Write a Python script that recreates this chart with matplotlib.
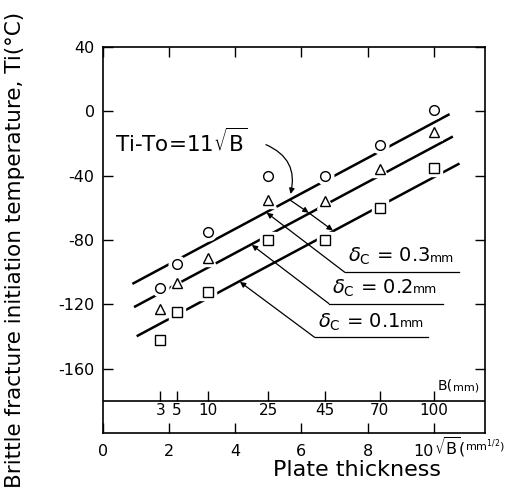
import numpy as np
import matplotlib.pyplot as plt

# plate thickness B (mm) at which each specimen was tested
B = np.array([3, 5, 10, 25, 45, 70, 100])
# brittle fracture initiation temperature Ti (C) for each critical COD
Ti_03 = [-110, -95, -75, -40, -40, -21, 1]
Ti_02 = [-123, -107, -91, -55, -56, -36, -13]
Ti_01 = [-142, -125, -112, -80, -80, -60, -35]

# fitted lines Ti = To + 11*sqrt(B)
To = {"0.3": -117, "0.2": -132, "0.1": -151}
slope = 11
line_span = {"0.3": (0.92, 10.45), "0.2": (0.97, 10.55), "0.1": (1.05, 10.75)}

B_ticks = [3, 5, 10, 25, 45, 70, 100]
B_labels = ["3", "5", "10", "25", "45", "70", "100"]

plt.rcParams['font.family'] = ['DejaVu Sans']

fig = plt.figure(figsize=(5.18, 4.96), dpi=100)
ax = fig.add_axes([0.199, 0.127, 0.737, 0.778])
ax.set_xlim(0, 11.55)
ax.set_ylim(-200, 40)

for k in ["0.3", "0.2", "0.1"]:
    x0, x1 = line_span[k]
    xs = np.array([x0, x1])
    ax.plot(xs, To[k] + slope * xs, color='black', lw=1.8, zorder=2)

# white backing under each symbol so the fitted lines break around it
sq = np.sqrt(B)
for ys, m, ms in [(Ti_03, 'o', 7), (Ti_02, '^', 7), (Ti_01, 's', 6.5)]:
    ax.plot(sq, ys, m, ms=ms + 5, mfc='white', mec='white', zorder=3)
    ax.plot(sq, ys, m, ms=ms, mfc='white', mec='black', mew=1.0, zorder=4)

# separate strip with the B (mm) scale
ax.axhline(-180, color='black', lw=1.2)
ax.vlines(np.sqrt(B_ticks), -180, -174, color='black', lw=1.0)
for b, lab in zip(B_ticks, B_labels):
    ax.text(np.sqrt(b), -186, lab, ha='center', va='center', fontsize=11)
t = ax.text(10.12, -174.5, "B(", ha='left', va='bottom', fontsize=10)
ax.annotate("mm)", xy=(1, 0), xycoords=t, ha='left', va='bottom', fontsize=8)

# main axis ticks
ax.set_yticks([40, 0, -40, -80, -120, -160])
ax.set_yticklabels(["40", "0", "-40", "-80", "-120", "-160"], fontsize=11.5)
ax.set_xticks([0, 2, 4, 6, 8, 10])
ax.set_xticklabels(["0", "2", "4", "6", "8", "10"], fontsize=11.5)
ax.tick_params(direction='in', length=7, width=1.0, right=True, top=True, pad=6)
ax.tick_params(axis='x', pad=8)
ax.get_xticklabels()[-1].set_horizontalalignment('right')
for s in ax.spines.values():
    s.set_linewidth(1.2)

ax.text(10.0, -208.5, r"$\sqrt{\mathrm{B}}$(", ha='left', va='center', fontsize=11.5, clip_on=False)
ax.text(10.95, -208.5, r"mm$^{1/2}$)", ha='left', va='center', fontsize=8, clip_on=False)

# fitted-line formula and leaders
ax.text(0.36, -25, r"Ti-To=11$\sqrt{\mathrm{B}}$", ha='left', va='baseline', fontsize=15.5)
ax.annotate("", xy=(5.65, -53), xytext=(4.85, -20),
            arrowprops=dict(arrowstyle='-|>', color='black', lw=0.9,
                            connectionstyle="arc3,rad=-0.45", mutation_scale=8))
ax.annotate("", xy=(6.22, -63), xytext=(5.65, -55),
            arrowprops=dict(arrowstyle='-|>', color='black', lw=0.9, mutation_scale=8, shrinkA=0, shrinkB=0))
ax.annotate("", xy=(6.95, -74), xytext=(6.22, -63),
            arrowprops=dict(arrowstyle='-|>', color='black', lw=0.9, mutation_scale=8, shrinkA=0, shrinkB=0))

labels = [("0.3", 7.31, 10.76, -100, (4.95, -63)),
          ("0.2", 6.83, 10.27, -119.5, (4.5, -83)),
          ("0.1", 6.40, 9.82, -140.5, (4.14, -106))]
for val, xa, xb, yu, tip in labels:
    ax.plot([xa, xb], [yu, yu], color='black', lw=0.9)
    ax.annotate("", xy=tip, xytext=(xa, yu),
                arrowprops=dict(arrowstyle='-|>', color='black', lw=0.9, mutation_scale=8, shrinkA=0, shrinkB=0))
    tx = ax.text(xa + 0.1, yu + 3, r"$\delta_{\mathrm{C}}$ = " + val, ha='left', va='bottom', fontsize=14)
    ax.annotate("mm", xy=(1, 0.12), xycoords=tx, ha='left', va='bottom', fontsize=9)

ax.set_ylabel("Brittle fracture initiation temperature, Ti(°C)", fontsize=15.5)
ax.yaxis.set_label_coords(-0.205, 0.474)
fig.text(0.69, 0.052, "Plate thickness", ha='center', va='center', fontsize=16)

fig.savefig("out.png", dpi=100)
